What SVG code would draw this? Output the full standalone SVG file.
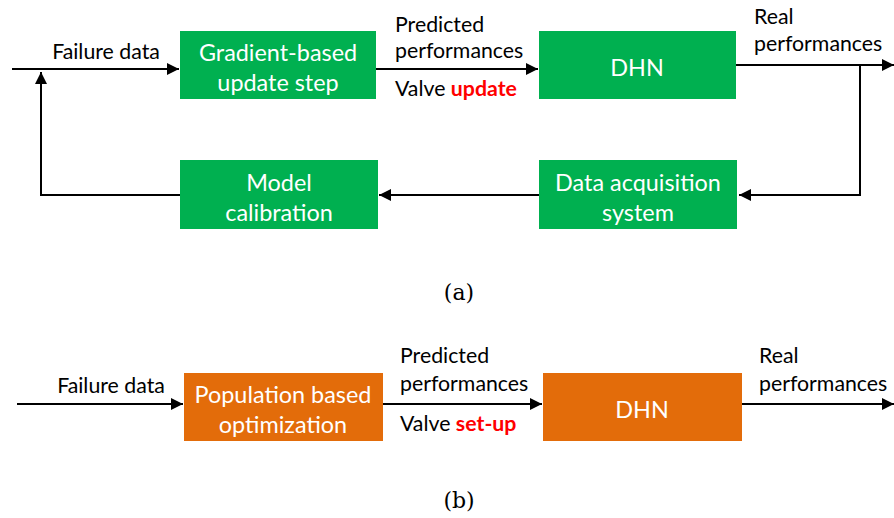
<svg xmlns="http://www.w3.org/2000/svg" width="894" height="518" viewBox="0 0 894 518">
<style>
.lbl{font-family:Lato,"Liberation Sans",sans-serif;font-size:21.3px;fill:#000}
.red{fill:#ff0000;font-weight:bold}
.bt{font-family:Lato,"Liberation Sans",sans-serif;font-size:23.4px;fill:#fff;text-anchor:middle}
.g{fill:#00b050}
.o{fill:#e36c0a}
.ln{stroke:#000;stroke-width:2;fill:none}
.cap{font-family:"DejaVu Serif",serif;font-size:22px;fill:#000;text-anchor:middle}
</style>
<defs>
<marker id="ah2" viewBox="0 0 10 10" refX="10" refY="5" markerWidth="12" markerHeight="12" markerUnits="userSpaceOnUse" orient="auto"><path d="M0,0 L10,5 L0,10 z" fill="#000"/></marker>
</defs>
<g id="connectors">
<path class="ln" d="M12,69 H179" marker-end="url(#ah2)"/>
<path class="ln" d="M180,195 H41 V72" marker-end="url(#ah2)"/>
<path class="ln" d="M376,69 H538" marker-end="url(#ah2)"/>
<path class="ln" d="M736,65 H894" marker-end="url(#ah2)"/>
<path class="ln" d="M860,65 V195 H739" marker-end="url(#ah2)"/>
<path class="ln" d="M539,195 H379" marker-end="url(#ah2)"/>
<path class="ln" d="M17,404 H183" marker-end="url(#ah2)"/>
<path class="ln" d="M383,404 H542" marker-end="url(#ah2)"/>
<path class="ln" d="M742,404 H894" marker-end="url(#ah2)"/>
</g>
<g id="labels">
<text class="lbl" x="106" y="59" text-anchor="middle">Failure data</text>
<text class="lbl" x="395" y="32">Predicted</text>
<text class="lbl" x="395" y="58">performances</text>
<text class="lbl" x="395" y="96">Valve <tspan class="red">update</tspan></text>
<text class="lbl" x="754" y="24">Real</text>
<text class="lbl" x="754" y="51">performances</text>
<text class="lbl" x="111" y="393" text-anchor="middle">Failure data</text>
<text class="lbl" x="400" y="363">Predicted</text>
<text class="lbl" x="400" y="391">performances</text>
<text class="lbl" x="400" y="431">Valve <tspan class="red">set-up</tspan></text>
<text class="lbl" x="759" y="363">Real</text>
<text class="lbl" x="759" y="391">performances</text>
<text class="cap" x="459" y="300">(a)</text>
<text class="cap" x="459" y="508">(b)</text>
</g>
<g id="gradient"><rect class="g" x="180" y="31" width="196" height="68"/><text class="bt" x="278" y="61">Gradient-based</text><text class="bt" x="278" y="91">update step</text></g>
<g id="dhn-a"><rect class="g" x="539" y="31" width="197" height="68"/><text class="bt" x="637" y="76">DHN</text></g>
<g id="model"><rect class="g" x="180" y="160" width="198" height="69"/><text class="bt" x="279" y="191">Model</text><text class="bt" x="279" y="221">calibration</text></g>
<g id="daq"><rect class="g" x="539" y="160" width="198" height="69"/><text class="bt" x="638" y="191">Data acquisition</text><text class="bt" x="638" y="221">system</text></g>
<g id="pop"><rect class="o" x="184" y="373" width="199" height="68"/><text class="bt" x="283" y="403">Population based</text><text class="bt" x="283" y="433">optimization</text></g>
<g id="dhn-b"><rect class="o" x="543" y="373" width="199" height="68"/><text class="bt" x="642" y="418">DHN</text></g>
</svg>
